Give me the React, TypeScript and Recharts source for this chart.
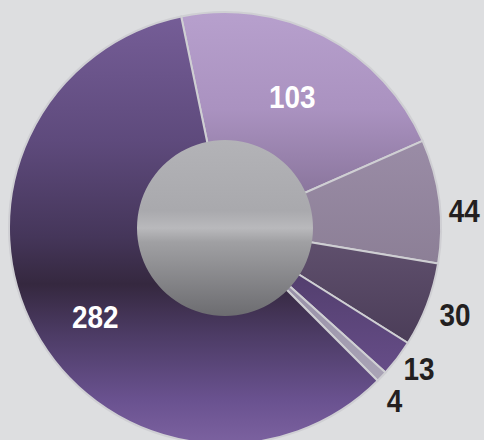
import { PieChart, Pie, Cell } from "recharts"

const categories = ["a", "b", "c", "d", "e", "f"]
const values = [103, 44, 30, 13, 4, 282]
const sliceFills = ["url(#g103)", "url(#g44)", "url(#g30)", "url(#g13)", "url(#g4)", "url(#g282)"]
const labelInside = [true, false, false, false, false, true]
const labelRadius = [147, 240, 246, 240, 242, 157]
const labelAngleShift = [0, 3, 0, -1, 2, -6]

const data = categories.map((name, i) => ({ name, value: values[i] }))
const hub = [{ name: "hub", value: 1 }]

const CX = 225
const CY = 228
const RAD = Math.PI / 180

function renderLabel(props: any) {
  const { midAngle, index, cx, cy } = props
  const a = (midAngle - labelAngleShift[index]) * RAD
  const r = labelRadius[index]
  const x = cx + r * Math.cos(a)
  const y = cy - r * Math.sin(a)
  return (
    <text
      x={0}
      y={0}
      transform={`translate(${x},${y}) scale(0.9,1)`}
      textAnchor="middle"
      dominantBaseline="central"
      fill={labelInside[index] ? "#ffffff" : "#231f20"}
      style={{ fontFamily: "'Liberation Sans', Arial, sans-serif", fontWeight: 700, fontSize: 31 }}
    >
      {values[index]}
    </text>
  )
}

export default function App() {
  return (
    <div style={{ position: "absolute", left: 0, top: 0, width: 484, height: 440, background: "#dddee0", overflow: "hidden" }}>
      <PieChart width={484} height={440} margin={{ top: 0, right: 0, bottom: 0, left: 0 }}>
        <defs>
          <linearGradient id="g103" x1="0" y1="0" x2="0" y2="1">
            <stop offset="0%" stopColor="#b7a0cd" />
            <stop offset="45%" stopColor="#aa92c0" />
            <stop offset="100%" stopColor="#7d6a8e" />
          </linearGradient>
          <linearGradient id="g44" x1="0" y1="0" x2="0" y2="1">
            <stop offset="0%" stopColor="#9a8ca6" />
            <stop offset="100%" stopColor="#8c7f96" />
          </linearGradient>
          <linearGradient id="g30" x1="0" y1="0" x2="0" y2="1">
            <stop offset="0%" stopColor="#625270" />
            <stop offset="100%" stopColor="#4b3d58" />
          </linearGradient>
          <linearGradient id="g13" x1="0" y1="0" x2="0" y2="1">
            <stop offset="0%" stopColor="#4a3862" />
            <stop offset="100%" stopColor="#664d88" />
          </linearGradient>
          <linearGradient id="g4" x1="0" y1="0" x2="0" y2="1">
            <stop offset="0%" stopColor="#8e86a0" />
            <stop offset="100%" stopColor="#aaa4b6" />
          </linearGradient>
          <linearGradient id="g282" gradientUnits="userSpaceOnUse" x1="0" y1="12" x2="0" y2="444">
            <stop offset="0%" stopColor="#765e98" />
            <stop offset="30%" stopColor="#5e4a7c" />
            <stop offset="52%" stopColor="#45365a" />
            <stop offset="63%" stopColor="#35283f" />
            <stop offset="75%" stopColor="#4d3c66" />
            <stop offset="90%" stopColor="#6a5290" />
            <stop offset="100%" stopColor="#7c62a0" />
          </linearGradient>
          <linearGradient id="ghub" x1="0" y1="0" x2="0" y2="1">
            <stop offset="0%" stopColor="#b3b3b7" />
            <stop offset="40%" stopColor="#a9a9ad" />
            <stop offset="50%" stopColor="#b9b9bc" />
            <stop offset="58%" stopColor="#a0a0a3" />
            <stop offset="100%" stopColor="#6c6c70" />
          </linearGradient>
        </defs>
        <Pie
          data={data}
          dataKey="value"
          cx={CX}
          cy={CY}
          innerRadius={0}
          outerRadius={216}
          startAngle={101.7}
          endAngle={-258.3}
          stroke="#cfcfd3"
          strokeWidth={2}
          label={renderLabel}
          labelLine={false}
          isAnimationActive={false}
        >
          {data.map((d, i) => (
            <Cell key={d.name} fill={sliceFills[i]} />
          ))}
        </Pie>
        <Pie
          data={hub}
          dataKey="value"
          cx={CX}
          cy={CY}
          innerRadius={0}
          outerRadius={88}
          stroke="none"
          isAnimationActive={false}
        >
          <Cell fill="url(#ghub)" />
        </Pie>
      </PieChart>
    </div>
  )
}
